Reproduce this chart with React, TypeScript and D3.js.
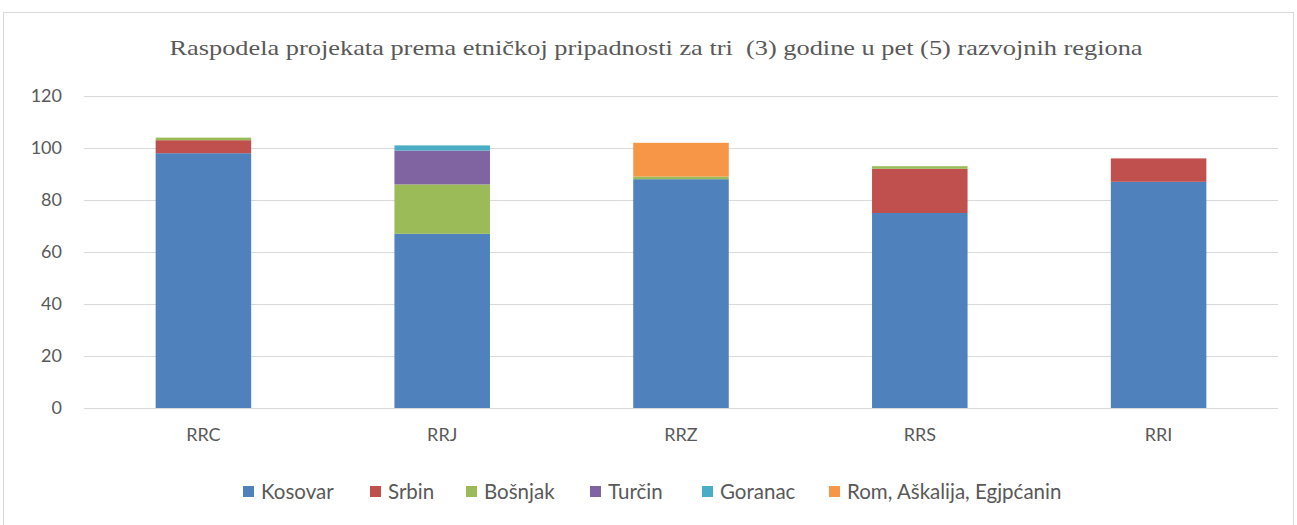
import React from "react";
import { scaleBand, scaleLinear, stack } from "d3";

const width = 1297;
const height = 525;
const margin = { top: 96, right: 19, bottom: 117, left: 84 };
const innerWidth = width - margin.left - margin.right;
const innerHeight = height - margin.top - margin.bottom;

const title = "Raspodela projekata prema etničkoj pripadnosti za tri\u00a0 (3) godine u pet (5) razvojnih regiona";
const regions = ["RRC", "RRJ", "RRZ", "RRS", "RRI"];
const seriesNames = ["Kosovar", "Srbin", "Bošnjak", "Turčin", "Goranac", "Rom, Aškalija, Egjpćanin"];
const colors = ["#4F81BD", "#C0504D", "#9BBB59", "#8064A2", "#4BACC6", "#F79646"];

const kosovar = [98, 67, 88, 75, 87];
const srbin = [5, 0, 0, 17, 9];
const bosnjak = [1, 19, 1, 1, 0];
const turcin = [0, 13, 0, 0, 0];
const goranac = [0, 2, 0, 0, 0];
const rom = [0, 0, 13, 0, 0];
const yTicks = [0, 20, 40, 60, 80, 100, 120];

// legend item x positions
const legendX = [243, 370, 466, 590, 702, 829];

const seriesValues = [kosovar, srbin, bosnjak, turcin, goranac, rom];
const table = regions.map((r, i) => {
  const row: any = { region: r };
  seriesNames.forEach((s, j) => (row[s] = seriesValues[j][i]));
  return row;
});

export default function App() {
  const x = scaleBand<string>()
    .domain(regions)
    .range([0, innerWidth])
    .paddingInner(0.6)
    .paddingOuter(0.3);
  const y = scaleLinear().domain([0, 120]).range([innerHeight, 0]);
  const layers = stack<any>().keys(seriesNames)(table);
  const font = "Lato, 'Open Sans', sans-serif";

  return (
    <svg
      width={width}
      height={height}
      style={{ position: "absolute", left: 0, top: 0, background: "#fff" }}
    >
      <rect x={3.5} y={12.5} width={1290} height={520} fill="#fff" stroke="#d9d9d9" />
      <text
        x={656}
        y={55}
        textAnchor="middle"
        fontFamily="'Liberation Serif', serif"
        fontSize={22}
        fill="#595959"
        textLength={973}
        lengthAdjust="spacingAndGlyphs"
      >
        {title}
      </text>
      <g transform={`translate(${margin.left},${margin.top})`}>
        {yTicks.map((t) => (
          <g key={t}>
            <line x1={0} x2={innerWidth} y1={y(t) + 0.5} y2={y(t) + 0.5} stroke="#d9d9d9" />
            <text
              x={-22}
              y={y(t)}
              dy="0.35em"
              textAnchor="end"
              fontFamily={font}
              fontSize={18}
              fill="#595959"
            >
              {t}
            </text>
          </g>
        ))}
        {layers.map((layer, i) => (
          <g key={layer.key} fill={colors[i]}>
            {layer.map((d) =>
              d[1] - d[0] > 0 ? (
                <rect
                  key={d.data.region}
                  x={x(d.data.region)}
                  width={x.bandwidth()}
                  y={y(d[1])}
                  height={y(d[0]) - y(d[1])}
                />
              ) : null
            )}
          </g>
        ))}
        {regions.map((r) => (
          <text
            key={r}
            x={(x(r) as number) + x.bandwidth() / 2}
            y={innerHeight + 33}
            textAnchor="middle"
            fontFamily={font}
            fontSize={18}
            fill="#595959"
          >
            {r}
          </text>
        ))}
      </g>
      <g>
        {seriesNames.map((s, i) => (
          <g key={s} transform={`translate(${legendX[i]},486)`}>
            <rect width={11} height={11} fill={colors[i]} />
            <text x={18} y={13} fontFamily={font} fontSize={20.5} fill="#595959">
              {s}
            </text>
          </g>
        ))}
      </g>
    </svg>
  );
}
